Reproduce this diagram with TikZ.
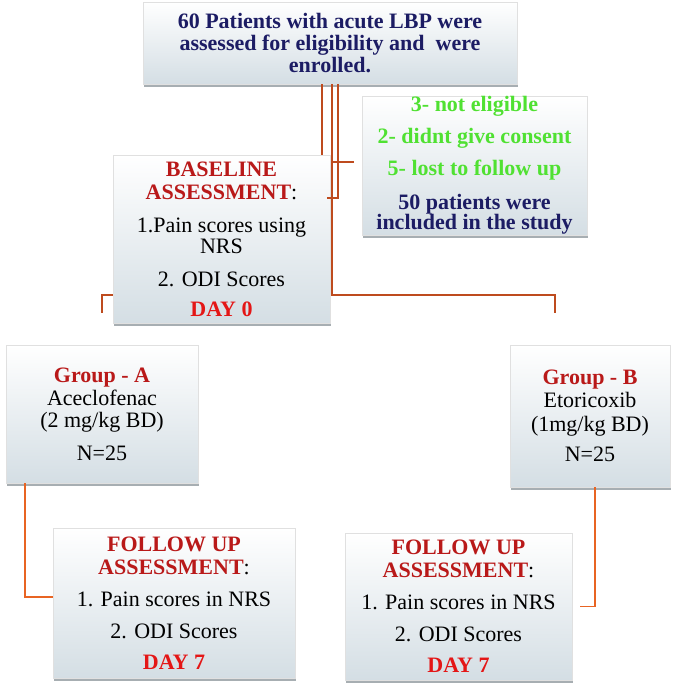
\documentclass[tikz,border=0pt]{standalone}
\usepackage{fontspec}
\setmainfont{Liberation Serif}
\usetikzlibrary{shadows}
\definecolor{navy}{RGB}{28,28,100}
\definecolor{hred}{RGB}{185,25,25}
\definecolor{dred}{RGB}{228,22,22}
\definecolor{lgreen}{RGB}{80,225,50}
\definecolor{lineA}{RGB}{190,75,30}
\definecolor{lineB}{RGB}{232,100,35}
\definecolor{boxbot}{RGB}{212,222,228}
\definecolor{shadowc}{RGB}{60,75,85}
\tikzset{
 fbox/.style={rectangle, draw=black!12, line width=0.5pt, top color=white, bottom color=boxbot,
   align=center, inner sep=0pt, font=\fontsize{22}{22}\selectfont,
   drop shadow={shadow xshift=1pt, shadow yshift=-3pt, opacity=0.45, fill=shadowc}},
 conn/.style={draw=lineA, line width=1.6pt},
 conn2/.style={draw=lineB, line width=1.6pt},
}
\begin{document}
\begin{tikzpicture}[x=1pt,y=-1pt]
\useasboundingbox (0,0) rectangle (677,690);
% boxes
\node[fbox, minimum width=374pt, minimum height=82pt, text=navy,
  font=\fontsize{22}{22}\selectfont\bfseries] (top) at (330,43)
  {60 Patients with acute LBP were\\assessed for eligibility and~ were\\enrolled.};
\node[fbox, minimum width=225pt, minimum height=139pt] (excl) at (474.5,165.5)
  {\textcolor{lgreen}{\textbf{3- not eligible}}\\[10pt]
   \textcolor{lgreen}{\textbf{2- didnt give consent}}\\[10pt]
   \textcolor{lgreen}{\textbf{5- lost to follow up}}\\[12pt]
   \textcolor{navy}{\textbf{50 patients were}}\\[-2pt]
   \textcolor{navy}{\textbf{included in the study}}};
\node[fbox, minimum width=217pt, minimum height=168pt] (base) at (221.5,239)
  {\textcolor{hred}{\textbf{BASELINE}}\\[1pt]
   \textcolor{hred}{\textbf{ASSESSMENT}}:\\[11pt]
   1.Pain scores using\\[-1pt]
   NRS\\[11pt]
   2. ODI Scores\\[8pt]
   \textcolor{dred}{\textbf{DAY 0}}};
\node[fbox, minimum width=192pt, minimum height=138pt] (grpA) at (102,414)
  {\textcolor{hred}{\textbf{Group - A}}\\[1pt]
   Aceclofenac\\
   (2 mg/kg BD)\\[11pt]
   N=25};
\node[fbox, minimum width=160pt, minimum height=142pt] (grpB) at (590,416)
  {\textcolor{hred}{\textbf{Group - B}}\\[1pt]
   Etoricoxib\\[2pt]
   (1mg/kg BD)\\[8pt]
   N=25};
\node[fbox, minimum width=242pt, minimum height=150pt] (fuA) at (174,603)
  {\textcolor{hred}{\textbf{FOLLOW UP}}\\[1pt]
   \textcolor{hred}{\textbf{ASSESSMENT}}:\\[10pt]
   1. Pain scores in NRS\\[10pt]
   2. ODI Scores\\[9pt]
   \textcolor{dred}{\textbf{DAY 7}}};
\node[fbox, minimum width=227pt, minimum height=147pt] (fuB) at (458.5,606.5)
  {\textcolor{hred}{\textbf{FOLLOW UP}}\\[1pt]
   \textcolor{hred}{\textbf{ASSESSMENT}}:\\[10pt]
   1. Pain scores in NRS\\[10pt]
   2. ODI Scores\\[9pt]
   \textcolor{dred}{\textbf{DAY 7}}};
% free ends
\coordinate (bA) at (102,313);
\coordinate (bB) at (555,313);
% connectors
\draw[conn] ([xshift=-8pt]base.north east |- top.south) -- ([xshift=-8pt]base.north east);
\draw[conn] ([xshift=2pt]base.east |- top.south) -- ([xshift=2pt,yshift=-56pt]base.east) -| (bB);
\draw[conn] ([xshift=8pt]base.east |- top.south) |- ([xshift=-3pt,yshift=41pt]base.east);
\draw[conn] ([xshift=-30pt,yshift=3.5pt]excl.west) -- ([xshift=-8pt,yshift=3.5pt]excl.west);
\draw[conn] ([yshift=-56pt]base.west) -| (bA);
\draw[conn2] ([xshift=-77pt]grpA.south) |- ([yshift=6pt]fuA.west);
\draw[conn2] ([xshift=5pt]grpB.south) |- ([xshift=8pt]fuB.east);
\end{tikzpicture}
\end{document}
